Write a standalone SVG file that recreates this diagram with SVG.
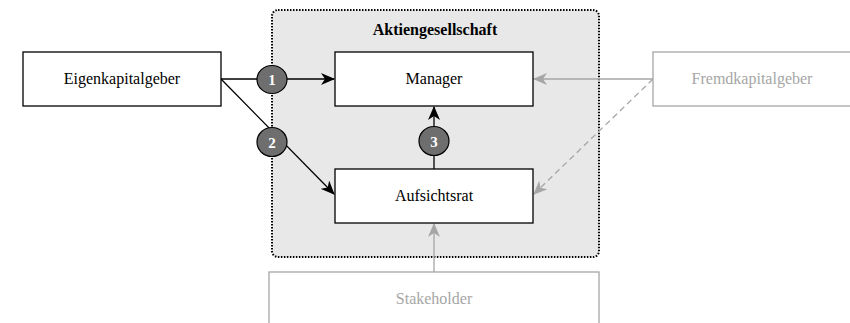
<svg xmlns="http://www.w3.org/2000/svg" width="850" height="323" viewBox="0 0 850 323">
  <style>
    .box { fill: #ffffff; stroke: #000000; stroke-width: 1.3; }
    .box-grey { fill: #ffffff; stroke: #a6a6a6; stroke-width: 1.3; }
    .label { font-family: "Liberation Serif", "Times New Roman", serif; font-size: 16px; text-anchor: middle; fill: #000000; }
    .label-grey { fill: #a6a6a6; }
    .title { font-weight: bold; }
    .badge { fill: #6e6e6e; stroke: #000000; stroke-width: 1.2; }
    .badge-text { font-family: "Liberation Serif", "Times New Roman", serif; font-size: 15px; font-weight: bold; text-anchor: middle; fill: #ffffff; }
    .edge { fill: none; stroke: #000000; stroke-width: 1.3; }
    .edge-grey { fill: none; stroke: #a6a6a6; stroke-width: 1.3; }
    .dashed { stroke-dasharray: 6 4; }
  </style>
  <defs>
    <marker id="arrow-black" viewBox="0 0 14 12" refX="13" refY="6" markerWidth="14" markerHeight="12" markerUnits="userSpaceOnUse" orient="auto">
      <path d="M0,0 L14,6 L0,12 L4,6 Z" fill="#000000"/>
    </marker>
    <marker id="arrow-grey" viewBox="0 0 14 12" refX="13" refY="6" markerWidth="14" markerHeight="12" markerUnits="userSpaceOnUse" orient="auto">
      <path d="M0,0 L14,6 L0,12 L4,6 Z" fill="#a6a6a6"/>
    </marker>
  </defs>

  <!-- Company container -->
  <g id="aktiengesellschaft">
    <rect x="272" y="10" width="327" height="247" rx="6" ry="6" fill="#e8e8e8" stroke="#000000" stroke-width="2" stroke-dasharray="1.5 1.5"/>
    <text class="label title" x="435" y="35">Aktiengesellschaft</text>
  </g>

  <!-- Connectors -->
  <g id="connectors">
    <line class="edge" x1="221" y1="79" x2="334" y2="79" marker-end="url(#arrow-black)"/>
    <line class="edge" x1="221" y1="79" x2="334" y2="194" marker-end="url(#arrow-black)"/>
    <line class="edge" x1="434" y1="169" x2="434" y2="107" marker-end="url(#arrow-black)"/>
    <line class="edge-grey" x1="653" y1="79" x2="534" y2="79" marker-end="url(#arrow-grey)"/>
    <line class="edge-grey dashed" x1="653" y1="79" x2="534" y2="194" marker-end="url(#arrow-grey)"/>
    <line class="edge-grey" x1="434" y1="272" x2="434" y2="224" marker-end="url(#arrow-grey)"/>
  </g>

  <g id="eigenkapitalgeber">
    <rect class="box" x="23" y="52" width="198" height="54"/>
    <text class="label" x="122" y="84">Eigenkapitalgeber</text>
  </g>

  <g id="manager">
    <rect class="box" x="335" y="52" width="198" height="54"/>
    <text class="label" x="434" y="84">Manager</text>
  </g>

  <g id="aufsichtsrat">
    <rect class="box" x="335" y="169" width="198" height="54"/>
    <text class="label" x="434" y="201">Aufsichtsrat</text>
  </g>

  <g id="fremdkapitalgeber">
    <rect class="box-grey" x="653" y="52" width="198" height="54"/>
    <text class="label label-grey" x="752" y="84">Fremdkapitalgeber</text>
  </g>

  <g id="stakeholder">
    <rect class="box-grey" x="269" y="272" width="330" height="60"/>
    <text class="label label-grey" x="434" y="304">Stakeholder</text>
  </g>

  <!-- Numbered badges -->
  <g id="badge-1">
    <ellipse class="badge" cx="272" cy="79.5" rx="15" ry="14"/>
    <text class="badge-text" x="272" y="85">1</text>
  </g>
  <g id="badge-2">
    <ellipse class="badge" cx="272" cy="142" rx="15" ry="14.5"/>
    <text class="badge-text" x="272" y="147.5">2</text>
  </g>
  <g id="badge-3">
    <ellipse class="badge" cx="434" cy="141" rx="15" ry="14.5"/>
    <text class="badge-text" x="434" y="146.5">3</text>
  </g>
</svg>
